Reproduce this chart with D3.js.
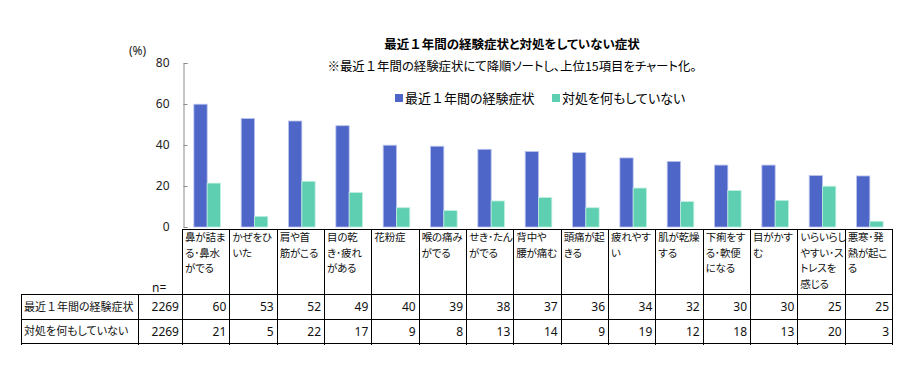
<!DOCTYPE html>
<html>
<head>
<meta charset="utf-8">
<script src="https://cdn.jsdelivr.net/npm/d3@7"></script>
<style>
  body { margin: 0; background: #fff; }
  svg { display: block; font-family: "Noto Sans CJK JP", "Noto Sans", sans-serif; }
  .palt { font-feature-settings: "palt" 1; }
  .fw { font-feature-settings: normal; }
  .axis text { font-size: 12px; fill: #222; font-family: "Noto Sans", sans-serif; }
  .axis path, .axis line { stroke: #8c8c8c; }
  .grid-line { stroke: #000; stroke-width: 1; shape-rendering: crispEdges; }
  .cell { font-size: 11px; fill: #111; }
  .head { font-size: 10.5px; fill: #111; letter-spacing: -0.2px; }
</style>
</head>
<body>
<svg id="chart"></svg>
<script>
// Categories (table column headers, already wrapped as in the source)
const categories = [
  ["鼻が詰ま", "る･鼻水", "がでる"],
  ["かぜをひ", "いた"],
  ["肩や首", "筋がこる"],
  ["目の乾", "き･疲れ", "がある"],
  ["花粉症"],
  ["喉の痛み", "がでる"],
  ["せき･たん", "がでる"],
  ["背中や", "腰が痛む"],
  ["頭痛が起", "きる"],
  ["疲れやす", "い"],
  ["肌が乾燥", "する"],
  ["下痢をす", "る･軟便", "になる"],
  ["目がかす", "む"],
  ["いらいらし", "やすい･ス", "トレスを", "感じる"],
  ["悪寒･発", "熱が起こ", "る"]
];

const seriesNames = ["最近１年間の経験症状", "対処を何もしていない"];
const sampleSizes = [2269, 2269];

// Bar values (%)
const experienced = [59.9, 52.9, 51.7, 49.4, 39.9, 39.4, 37.9, 36.8, 36.3, 33.7, 32.0, 30.2, 30.2, 25.1, 24.9];
const untreated = [21.4, 5.2, 22.3, 16.8, 9.4, 8.0, 12.7, 14.4, 9.4, 19.0, 12.4, 17.8, 13.0, 19.9, 2.8];

// Values printed in the table
const experiencedLabels = [60, 53, 52, 49, 40, 39, 38, 37, 36, 34, 32, 30, 30, 25, 25];
const untreatedLabels = [21, 5, 22, 17, 9, 8, 13, 14, 9, 19, 12, 18, 13, 20, 3];

const yTicks = [0, 20, 40, 60, 80];

const colors = ["#4f66c9", "#5ecfb1"];
const strokes = ["#b9c3ee", "#bfeee0"];

const width = 910, height = 373;

const svg = d3.select("#chart")
  .attr("width", width)
  .attr("height", height);

// Write proportional text but keep the full-width "１" at full width
function setText(sel, str) {
  str.split(/(１)/).filter(s => s.length).forEach(part => {
    sel.append("tspan")
      .attr("class", part === "１" ? "fw" : null)
      .text(part);
  });
  return sel;
}

const ids = categories.map((d, i) => i);

// Scales
const xPlot = d3.scaleBand().domain(ids).range([183.5, 893.5]);
const xTable = d3.scaleBand().domain(ids).range([182, 892]);
const xSub = d3.scaleBand().domain([0, 1]).range([0, xPlot.bandwidth()]).paddingOuter(0.78);
const y = d3.scaleLinear().domain([0, 80]).range([227, 63]);

// Titles
setText(svg.append("text")
  .attr("class", "palt")
  .attr("x", 512).attr("y", 45)
  .attr("dy", "0.35em")
  .attr("text-anchor", "middle")
  .style("font-size", "12.5px")
  .style("font-weight", "bold"),
  "最近１年間の経験症状と対処をしていない症状");

setText(svg.append("text")
  .attr("class", "palt")
  .attr("x", 512).attr("y", 67)
  .attr("dy", "0.35em")
  .attr("text-anchor", "middle")
  .style("font-size", "12.4px"),
  "※最近１年間の経験症状にて降順ソートし、上位15項目をチャート化。");

// Legend
const legendX = [395, 552];
seriesNames.forEach((name, i) => {
  const g = svg.append("g").attr("transform", `translate(${legendX[i]},98)`);
  g.append("rect")
    .attr("x", 0).attr("y", -4)
    .attr("width", 8).attr("height", 8)
    .attr("fill", colors[i]);
  setText(g.append("text")
    .attr("class", "palt")
    .attr("x", 10).attr("dy", "0.35em")
    .style("font-size", "13px"),
    name);
});

// Y axis
svg.append("text")
  .attr("x", 129).attr("y", 51)
  .attr("dy", "0.35em")
  .style("font-size", "12px")
  .style("font-family", "Noto Sans, sans-serif")
  .style("fill", "#222")
  .text("(%)");

const yAxis = d3.axisLeft(y)
  .tickValues(yTicks)
  .tickSize(-4)
  .tickPadding(14);

svg.append("g")
  .attr("class", "axis")
  .attr("transform", "translate(183.5,0)")
  .call(yAxis);

// Bars
const barData = ids.flatMap(i => [
  { i, s: 0, v: experienced[i] },
  { i, s: 1, v: untreated[i] }
]);

svg.append("g")
  .selectAll("rect")
  .data(barData)
  .join("rect")
  .attr("x", d => xPlot(d.i) + xSub(d.s))
  .attr("width", xSub.bandwidth())
  .attr("y", d => y(d.v))
  .attr("height", d => y(0) - y(d.v))
  .attr("fill", d => colors[d.s])
  .attr("stroke", d => strokes[d.s])
  .attr("stroke-width", 0.8);

// Table
const table = svg.append("g");
const rowTop = 229, headBottom = 294, row1Bottom = 319, row2Bottom = 343;
const left = 21, nCol = 138;
const right = xTable.range()[1];

const hLine = (x1, x2, yy) => table.append("line").attr("class", "grid-line")
  .attr("x1", x1).attr("x2", x2).attr("y1", yy + 0.5).attr("y2", yy + 0.5);
const vLine = (xx, y1, y2) => table.append("line").attr("class", "grid-line")
  .attr("x1", Math.round(xx) + 0.5).attr("x2", Math.round(xx) + 0.5).attr("y1", y1).attr("y2", y2);

hLine(xTable(0), right, rowTop);
hLine(left, right, headBottom);
hLine(left, right, row1Bottom);
hLine(left, right, row2Bottom);

vLine(left, headBottom, row2Bottom + 2);
vLine(nCol, headBottom, row2Bottom + 2);
ids.forEach(i => vLine(xTable(i), rowTop, row2Bottom + 2));
vLine(right, rowTop, row2Bottom + 2);

// Category headers
ids.forEach(i => {
  const t = table.append("text")
    .attr("class", "head palt")
    .attr("x", xTable(i) + 3)
    .attr("y", 237.5);
  categories[i].forEach((line, k) => {
    t.append("tspan")
      .attr("x", xTable(i) + 3)
      .attr("y", 237.5 + k * 15.5)
      .attr("dy", "0.35em")
      .text(line);
  });
});

table.append("text")
  .attr("class", "cell")
  .attr("x", 152).attr("y", 288)
  .attr("dy", "0.35em")
  .style("font-size", "12px")
  .style("font-family", "Noto Sans, sans-serif")
  .text("n=");

// Data rows
const rows = [
  { name: seriesNames[0], n: sampleSizes[0], labels: experiencedLabels, cy: 307 },
  { name: seriesNames[1], n: sampleSizes[1], labels: untreatedLabels, cy: 331.5 }
];

rows.forEach(r => {
  setText(table.append("text")
    .attr("class", "cell palt")
    .attr("x", 24).attr("y", r.cy)
    .attr("dy", "0.35em"),
    r.name);
  table.append("text")
    .attr("class", "cell")
    .attr("x", 179).attr("y", r.cy)
    .attr("dy", "0.35em")
    .attr("text-anchor", "end")
    .style("font-size", "12px")
    .style("font-family", "Noto Sans, sans-serif")
    .text(r.n);
  table.selectAll(null)
    .data(r.labels)
    .join("text")
    .attr("class", "cell")
    .attr("x", (d, i) => xTable(i) + xTable.bandwidth() - 3)
    .attr("y", r.cy)
    .attr("dy", "0.35em")
    .attr("text-anchor", "end")
    .style("font-size", "12px")
    .style("font-family", "Noto Sans, sans-serif")
    .text(d => d);
});
</script>
</body>
</html>
